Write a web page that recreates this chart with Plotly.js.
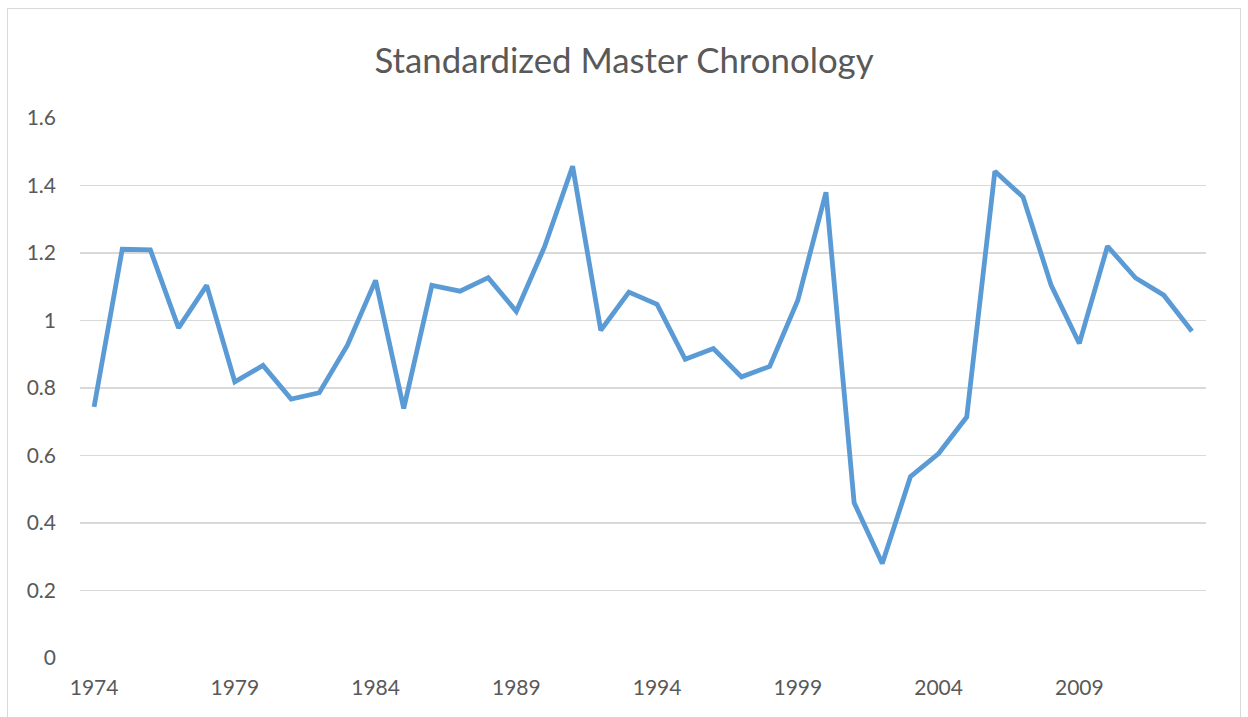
<!DOCTYPE html>
<html>
<head>
<meta charset="utf-8">
<script src="https://cdn.plot.ly/plotly-3.0.1.min.js"></script>
<style>
  html, body { margin: 0; padding: 0; background: #ffffff; }
  #chart { width: 1248px; height: 717px; }
</style>
</head>
<body>
<div id="chart"></div>
<script>
const years = [1974,1975,1976,1977,1978,1979,1980,1981,1982,1983,1984,1985,1986,1987,1988,1989,1990,1991,1992,1993,1994,1995,1996,1997,1998,1999,2000,2001,2002,2003,2004,2005,2006,2007,2008,2009,2010,2011,2012,2013];
const chronology = [0.744,1.211,1.209,0.978,1.104,0.818,0.867,0.767,0.786,0.927,1.119,0.739,1.104,1.087,1.127,1.027,1.218,1.457,0.971,1.084,1.048,0.885,0.917,0.833,0.864,1.060,1.380,0.460,0.280,0.537,0.606,0.714,1.442,1.366,1.104,0.932,1.220,1.126,1.075,0.968];
const xTickVals = [1974,1979,1984,1989,1994,1999,2004,2009];
const yTickVals = [0,0.2,0.4,0.6,0.8,1,1.2,1.4,1.6];
const yTickText = ["0","0.2","0.4","0.6","0.8","1","1.2","1.4","1.6"];
const chartTitle = "Standardized Master Chronology";

const W = 1248, H = 717, L = 80, R = 42, T = 118, B = 59;
const pw = W - L - R, ph = H - T - B;
const px = v => (v - L) / pw;
const py = v => (H - B - v) / ph;

const trace = {
  x: years, y: chronology, type: 'scatter', mode: 'lines',
  line: { color: '#5B9BD5', width: 4.8, shape: 'linear' },
  hoverinfo: 'x+y'
};

const layout = {
  width: W, height: H,
  margin: { l: L, r: R, t: T, b: B, pad: 0 },
  paper_bgcolor: '#ffffff', plot_bgcolor: '#ffffff',
  showlegend: false,
  font: { family: 'Lato, "Open Sans", sans-serif', color: '#595959', size: 21 },
  title: {
    text: chartTitle,
    font: { family: 'Lato, "Open Sans", sans-serif', size: 34.8, color: '#595959' },
    x: 0.5, xref: 'container', xanchor: 'center',
    y: 1 - 61 / H, yref: 'container', yanchor: 'middle'
  },
  xaxis: {
    range: [1973.5, 2013.5], tickmode: 'array', tickvals: xTickVals,
    ticktext: xTickVals.map(String),
    showgrid: false, zeroline: false, showline: false,
    ticks: '', ticklabelstandoff: 15,
    tickfont: { size: 21, color: '#595959' }, fixedrange: true
  },
  yaxis: {
    range: [0, 1.6], tickmode: 'array', tickvals: yTickVals, ticktext: yTickText,
    showgrid: true, gridcolor: '#D9D9D9', gridwidth: 1.3,
    zeroline: false, showline: false, ticks: '', ticklabelstandoff: 23,
    tickfont: { size: 21, color: '#595959' }, fixedrange: true
  },
  shapes: [{
    type: 'rect', xref: 'paper', yref: 'paper',
    x0: px(7.5), x1: px(1240.5), y0: py(730), y1: py(8.5),
    line: { color: '#D9D9D9', width: 1 }, fillcolor: 'rgba(0,0,0,0)', layer: 'below'
  }]
};

Plotly.newPlot('chart', [trace], layout, { displayModeBar: false, staticPlot: true });
</script>
</body>
</html>
